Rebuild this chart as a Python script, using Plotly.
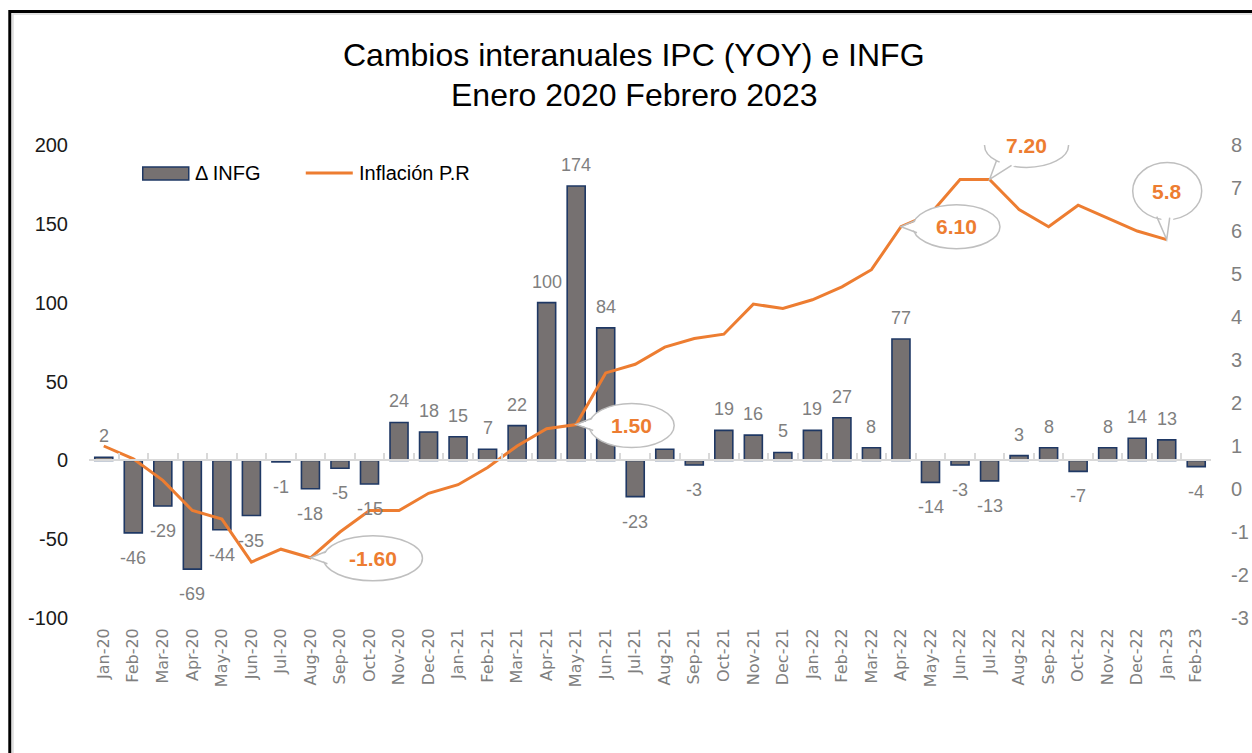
import plotly.graph_objects as go

# ---------------- data ----------------
months = ['Jan-20', 'Feb-20', 'Mar-20', 'Apr-20', 'May-20', 'Jun-20', 'Jul-20', 'Aug-20',
          'Sep-20', 'Oct-20', 'Nov-20', 'Dec-20', 'Jan-21', 'Feb-21', 'Mar-21', 'Apr-21',
          'May-21', 'Jun-21', 'Jul-21', 'Aug-21', 'Sep-21', 'Oct-21', 'Nov-21', 'Dec-21',
          'Jan-22', 'Feb-22', 'Mar-22', 'Apr-22', 'May-22', 'Jun-22', 'Jul-22', 'Aug-22',
          'Sep-22', 'Oct-22', 'Nov-22', 'Dec-22', 'Jan-23', 'Feb-23']

infg_change = [2, -46, -29, -69, -44, -35, -1, -18, -5, -15, 24, 18, 15, 7, 22, 100,
               174, 84, -23, 7, -3, 19, 16, 5, 19, 27, 8, 77, -14, -3, -13, 3,
               8, -7, 8, 14, 13, -4]

inflation_pr = [1.0, 0.7, 0.2, -0.5, -0.7, -1.7, -1.4, -1.6, -1.0, -0.5, -0.5, -0.1,
                0.1, 0.5, 1.0, 1.4, 1.5, 2.7, 2.9, 3.3, 3.5, 3.6, 4.3, 4.2,
                4.4, 4.7, 5.1, 6.1, 6.4, 7.2, 7.2, 6.5, 6.1, 6.6, 6.3, 6.0, 5.8, None]

hidden_bar_labels = ['Aug-21']

callout_months = ['Aug-20', 'May-21', 'Apr-22', 'Jul-22', 'Jan-23']
callout_texts = ['-1.60', '1.50', '6.10', '7.20', '5.8']

left_ticks = [-100, -50, 0, 50, 100, 150, 200]
right_ticks = [-3, -2, -1, 0, 1, 2, 3, 4, 5, 6, 7, 8]

title_line1 = 'Cambios interanuales IPC (YOY) e INFG'
title_line2 = 'Enero 2020 Febrero 2023'
bar_name = 'Δ INFG'
line_name = 'Inflación P.R'

# ---------------- style ----------------
BAR_FILL = '#767171'
BAR_EDGE = '#1F3864'
LINE_COL = '#ED7D31'
GREY_TXT = '#7F7F7F'
FONT = 'Liberation Sans'

W, H = 1252, 753
L, R, T, B = 89, 41, 145, 135

left_range = [left_ticks[0], left_ticks[-1]]
right_range = [right_ticks[0], right_ticks[-1]]

fig = go.Figure()

fig.add_trace(go.Bar(
    x=months, y=infg_change, name=bar_name,
    marker=dict(color=BAR_FILL, line=dict(color=BAR_EDGE, width=1.6)),
    showlegend=False, hoverinfo='x+y'))

fig.add_trace(go.Scatter(
    x=months, y=inflation_pr, name=line_name, yaxis='y2', mode='lines',
    line=dict(color=LINE_COL, width=3), showlegend=False, connectgaps=False))

# invisible trace carrying the categories for the zero-line axis
fig.add_trace(go.Scatter(x=months, y=[None] * len(months), xaxis='x2', yaxis='y',
                         mode='lines', showlegend=False, hoverinfo='skip'))

annotations = []
# bar value labels
for m, v in zip(months, infg_change):
    if m in hidden_bar_labels:
        continue
    annotations.append(dict(
        x=m, y=v, xref='x', yref='y', text=str(v), showarrow=False,
        yanchor='bottom' if v >= 0 else 'top',
        yshift=9 if v >= 0 else -13,
        font=dict(family=FONT, size=18, color=GREY_TXT)))

# callout bubbles (ellipse + tail) anchored to line points
bubble_geom = {
    # month: (ellipse x0, x1, y0, y1, tail point a, tail point b)  in pixels, y up
    'Aug-20': (13, 112, -23, 22, (15, 6), (17, -6)),
    'May-21': (13, 98, -23, 21, (15, 6), (17, -6)),
    'Apr-22': (12, 99, -22, 22, (14, 6), (16, -6)),
    'Jul-22': (-5, 79, 12, 56, (7, 19), (22, 14)),
    'Jan-23': (-34, 35, 20, 77, (-10, 23), (3, 22)),
}
shapes = []
idx = {m: i for i, m in enumerate(months)}
for m, t in zip(callout_months, callout_texts):
    yv = inflation_pr[idx[m]]
    x0, x1, y0, y1, a, b = bubble_geom[m]
    common = dict(xref='x', yref='y2', xsizemode='pixel', ysizemode='pixel',
                  xanchor=m, yanchor=yv)
    shapes.append(dict(type='circle', x0=x0, x1=x1, y0=y0, y1=y1,
                       fillcolor='white', line=dict(color='#BFBFBF', width=1.5), **common))
    shapes.append(dict(type='path',
                       path=f'M {a[0]+4},{a[1]} L 0,0 L {b[0]+4},{b[1]} Z',
                       fillcolor='white', line=dict(width=0), **common))
    shapes.append(dict(type='path',
                       path=f'M {a[0]},{a[1]} L 0,0 L {b[0]},{b[1]}',
                       line=dict(color='#BFBFBF', width=1.5), **common))
    annotations.append(dict(
        x=m, y=yv, xref='x', yref='y2', text=f'<b>{t}</b>', showarrow=False,
        xshift=(x0 + x1) / 2, yshift=(y0 + y1) / 2,
        font=dict(family=FONT, size=21, color=LINE_COL)))

# frame around the chart
shapes.append(dict(type='rect', xref='paper', yref='paper',
                   x0=-0.0706, x1=1.06, y0=-0.4, y1=1.2822,
                   line=dict(color='black', width=3), fillcolor='rgba(0,0,0,0)', layer='below'))
shapes.append(dict(type='rect', xref='paper', yref='paper',
                   x0=-0.0678, x1=1.06, y0=-0.4, y1=1.2770,
                   line=dict(color='#D9D9D9', width=1.5), fillcolor='rgba(0,0,0,0)', layer='below'))

# custom legend
shapes.append(dict(type='rect', xref='paper', yref='paper', x0=0.0479, x1=0.0889,
                   y0=0.926, y1=0.9535, fillcolor=BAR_FILL, line=dict(color=BAR_EDGE, width=1.5)))
shapes.append(dict(type='line', xref='paper', yref='paper', x0=0.1932, x1=0.2351,
                   y0=0.9408, y1=0.9408, line=dict(color=LINE_COL, width=3)))
annotations.append(dict(x=0.0925, y=0.9408, xref='paper', yref='paper', text=bar_name,
                        showarrow=False, xanchor='left', yanchor='middle',
                        font=dict(family=FONT, size=20, color='black')))
annotations.append(dict(x=0.2386, y=0.9408, xref='paper', yref='paper', text=line_name,
                        showarrow=False, xanchor='left', yanchor='middle',
                        font=dict(family=FONT, size=20, color='black')))

# title
annotations.append(dict(x=0.4854, y=1.190, xref='paper', yref='paper', text=title_line1,
                        showarrow=False, xanchor='center', yanchor='middle',
                        font=dict(family=FONT, size=32, color='black')))
annotations.append(dict(x=0.4854, y=1.105, xref='paper', yref='paper', text=title_line2,
                        showarrow=False, xanchor='center', yanchor='middle',
                        font=dict(family=FONT, size=32, color='black')))

zero_pos = (0 - left_range[0]) / (left_range[1] - left_range[0])

fig.update_layout(
    width=W, height=H,
    margin=dict(l=L, r=R, t=T, b=B, autoexpand=False),
    paper_bgcolor='white', plot_bgcolor='white',
    bargap=0.39,
    showlegend=False,
    xaxis=dict(type='category', categoryorder='array', categoryarray=months,
               range=[-0.5, len(months) - 0.5], tickangle=-90, showgrid=False,
               showline=False, zeroline=False, ticks='', ticklabelstandoff=6,
               automargin=False,
               tickfont=dict(family='DejaVu Sans', size=16, color=GREY_TXT)),
    xaxis2=dict(type='category', categoryorder='array', categoryarray=months,
                range=[-0.5, len(months) - 0.5], overlaying='x', anchor='free',
                position=zero_pos, side='bottom', showline=True, linecolor='#D9D9D9',
                linewidth=2, ticks='inside', tickson='boundaries', ticklen=6,
                tickcolor='#D9D9D9', tickwidth=1.5, showticklabels=False, showgrid=False,
                automargin=False),
    yaxis=dict(range=left_range, tickvals=left_ticks, ticktext=[str(v) for v in left_ticks],
               showgrid=False, zeroline=False, showline=False,
               ticks='', ticklabelstandoff=20, automargin=False,
               tickfont=dict(family=FONT, size=20, color='#1A1A1A')),
    yaxis2=dict(range=right_range, tickvals=right_ticks, ticktext=[str(v) for v in right_ticks],
                overlaying='y', side='right', showgrid=False,
                zeroline=False, showline=False, ticks='', ticklabelstandoff=19,
                automargin=False,
                tickfont=dict(family=FONT, size=20, color=GREY_TXT)),
    shapes=shapes,
    annotations=annotations,
)

fig.write_html('out.html', config={'displayModeBar': False},
               post_script="document.body.style.margin='0';document.body.style.overflow='hidden';")
